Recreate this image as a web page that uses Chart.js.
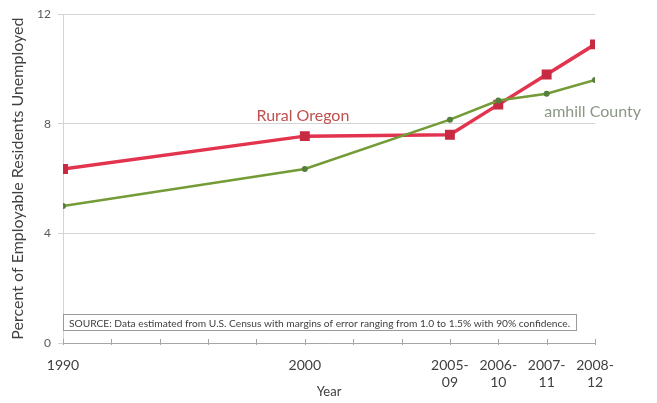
<!DOCTYPE html>
<html>
<head>
<meta charset="utf-8">
<title>Unemployment: Rural Oregon and Yamhill County</title>
<script src="https://cdn.jsdelivr.net/npm/chart.js@4/dist/chart.umd.min.js"></script>
<style>
  html, body { margin: 0; padding: 0; background: #ffffff; }
  #wrap { position: relative; width: 657px; height: 403px; }
</style>
</head>
<body>
<div id="wrap"><canvas id="unemploymentChart" width="657" height="403"></canvas></div>
<script>
// ------------------------------------------------------
// DATA
// ------------------------------------------------------

// position of each period on the year axis
const periodYears = [1990, 2000, 2006, 2008, 2010, 2012];

// tick labels (multi-line for the ACS 5-year periods)
const periodLabels = [
    ["1990"],
    ["2000"],
    ["2005-", "09"],
    ["2006-", "10"],
    ["2007-", "11"],
    ["2008-", "12"]
];

// percent of employable residents unemployed
const ruralOregon = [6.35, 7.55, 7.6, 8.7, 9.8, 10.9];
const yamhillCounty = [5.0, 6.35, 8.15, 8.85, 9.1, 9.6];

const yTicks = [0, 4, 8, 12];

const sourceNote =
    "SOURCE: Data estimated from U.S. Census with margins of error ranging from 1.0 to 1.5% with 90% confidence.";

// ------------------------------------------------------
// HELPERS
// ------------------------------------------------------

function toPoints(values) {
    return values.map((v, i) => ({ x: periodYears[i], y: v }));
}

const FONT = "Lato, 'Open Sans', sans-serif";

// ------------------------------------------------------
// OVERLAY: minor ticks, series names, source box
// ------------------------------------------------------

const overlayPlugin = {
    id: "overlay",
    afterDatasetsDraw(chart) {
        const ctx = chart.ctx;
        const xs = chart.scales.x;
        const ys = chart.scales.y;
        const area = chart.chartArea;

        ctx.save();

        // small tick marks every two years along the year axis
        ctx.strokeStyle = "#a6a6a6";
        ctx.lineWidth = 1;
        for (let yr = 1990; yr <= 2012; yr += 2) {
            const px = Math.round(xs.getPixelForValue(yr)) + 0.5;
            ctx.beginPath();
            ctx.moveTo(px, area.bottom - 4);
            ctx.lineTo(px, area.bottom + 2);
            ctx.stroke();
        }

        // series names
        ctx.font = "16px " + FONT;
        ctx.textBaseline = "middle";
        ctx.textAlign = "left";
        ctx.fillStyle = "#c0504d";
        ctx.fillText("Rural Oregon", xs.getPixelForValue(1998.0), ys.getPixelForValue(8.3));
        ctx.fillStyle = "#8c9686";
        ctx.fillText("amhill County", xs.getPixelForValue(2009.9), ys.getPixelForValue(8.45));

        // source note box
        const boxLeft = area.left;
        const boxTop = ys.getPixelForValue(1.05);
        const boxBottom = ys.getPixelForValue(0.45);
        ctx.font = "10.2px " + FONT;
        const boxWidth = ctx.measureText(sourceNote).width + 12;
        ctx.fillStyle = "#ffffff";
        ctx.fillRect(boxLeft, boxTop, boxWidth, boxBottom - boxTop);
        ctx.strokeStyle = "#9a9a9a";
        ctx.strokeRect(boxLeft + 0.5, Math.round(boxTop) + 0.5, boxWidth, Math.round(boxBottom - boxTop));
        ctx.fillStyle = "#404040";
        ctx.fillText(sourceNote, boxLeft + 6, (boxTop + boxBottom) / 2 + 1);

        ctx.restore();
    }
};

// ------------------------------------------------------
// CHART
// ------------------------------------------------------

new Chart(document.getElementById("unemploymentChart"), {
    type: "line",
    data: {
        datasets: [
            {
                label: "Yamhill County",
                data: toPoints(yamhillCounty),
                borderColor: "#739b36",
                backgroundColor: "#557f3a",
                borderWidth: 2.5,
                pointStyle: "circle",
                pointRadius: 3,
                pointBorderWidth: 0,
                tension: 0
            },
            {
                label: "Rural Oregon",
                data: toPoints(ruralOregon),
                borderColor: "#e2344f",
                backgroundColor: "#c72a42",
                borderWidth: 3.5,
                pointStyle: "rect",
                pointRadius: 7,
                pointBorderWidth: 0,
                tension: 0
            }
        ]
    },
    options: {
        responsive: false,
        animation: false,
        layout: {
            padding: { top: 12, right: 62, left: 0, bottom: 0 }
        },
        plugins: {
            legend: { display: false },
            tooltip: { enabled: false }
        },
        scales: {
            x: {
                type: "linear",
                min: 1990,
                max: 2012,
                afterBuildTicks(scale) {
                    scale.ticks = periodYears.map(v => ({ value: v }));
                },
                afterFit(scale) {
                    scale.height = 60;
                },
                grid: {
                    display: true,
                    drawOnChartArea: false,
                    drawTicks: false
                },
                border: { display: true, color: "#a6a6a6", width: 1 },
                ticks: {
                    autoSkip: false,
                    maxRotation: 0,
                    padding: 14,
                    color: "#404040",
                    font: { family: FONT, size: 14 },
                    callback(value) {
                        const i = periodYears.indexOf(value);
                        return i >= 0 ? periodLabels[i] : "";
                    }
                },
                title: {
                    display: true,
                    text: "Year",
                    color: "#404040",
                    font: { family: FONT, size: 13 },
                    padding: { top: 0, bottom: 3 }
                }
            },
            y: {
                min: 0,
                max: 12,
                afterBuildTicks(scale) {
                    scale.ticks = yTicks.map(v => ({ value: v }));
                },
                afterFit(scale) {
                    scale.width = 63;
                },
                grid: {
                    color: "#d4d4d4",
                    tickLength: 5,
                    tickColor: "#d4d4d4"
                },
                border: { display: true, color: "#d4d4d4", width: 1 },
                ticks: {
                    padding: 7,
                    color: "#595959",
                    font: { family: FONT, size: 12 }
                },
                title: {
                    display: true,
                    text: "Percent of Employable Residents Unemployed",
                    color: "#404040",
                    font: { family: FONT, size: 16 },
                    padding: { top: 8, bottom: 0 }
                }
            }
        }
    },
    plugins: [overlayPlugin]
});
</script>
</body>
</html>
